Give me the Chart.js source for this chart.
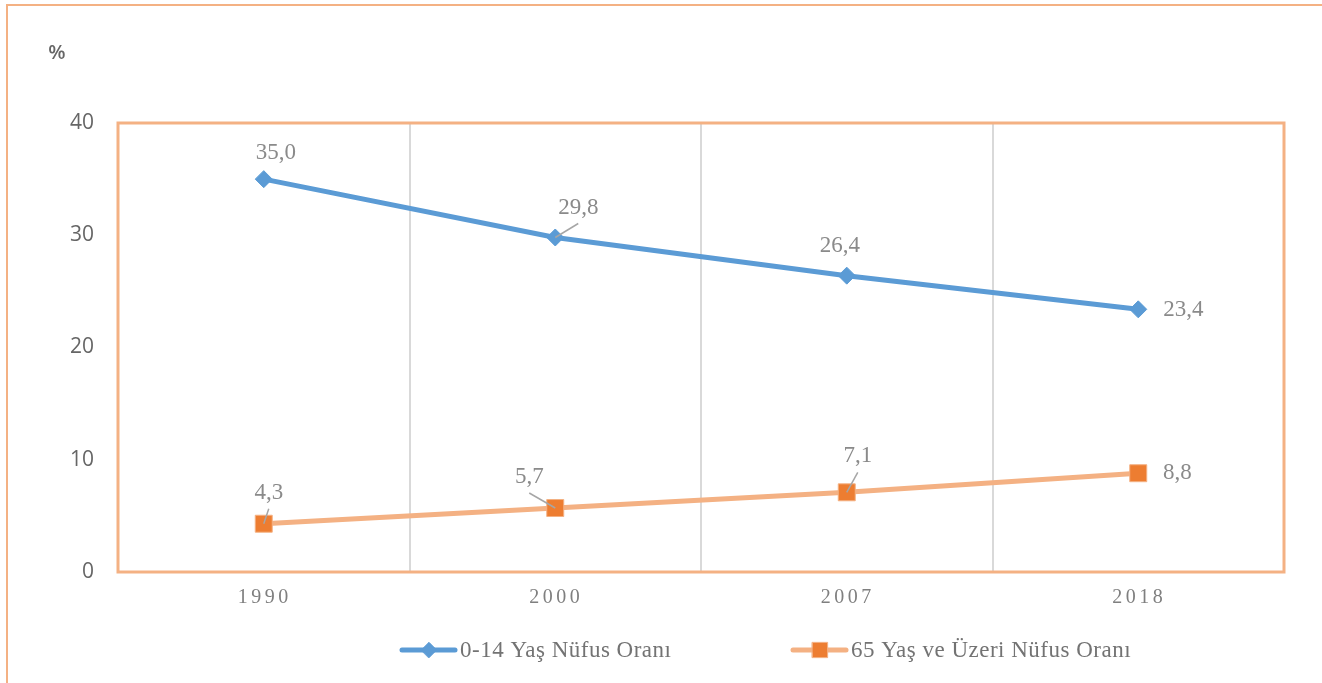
<!DOCTYPE html>
<html>
<head>
<meta charset="utf-8">
<script src="https://cdn.jsdelivr.net/npm/chart.js@4"></script>
<style>
  html, body { margin: 0; padding: 0; background: #fff; }
  #wrap { width: 1322px; height: 683px; }
</style>
</head>
<body>
<div id="wrap"><canvas id="popChart"></canvas></div>
<script>
const years = ["1990", "2000", "2007", "2018"];
const youngShare = [35.0, 29.8, 26.4, 23.4];
const oldShare = [4.3, 5.7, 7.1, 8.8];
const seriesNames = ["0-14 Yaş Nüfus Oranı", "65 Yaş ve Üzeri Nüfus Oranı"];
const yTicks = [0, 10, 20, 30, 40];

// where each value label sits relative to its point (px)
const youngLabelPos = [
  { dx: 12, dy: -26 },
  { dx: 23, dy: -30, leader: true },
  { dx: -7, dy: -30 },
  { dx: 45, dy: 1 }
];
const oldLabelPos = [
  { dx: 5, dy: -31, leader: true },
  { dx: -26, dy: -31, leader: true },
  { dx: 11, dy: -36, leader: true },
  { dx: 39, dy: 0 }
];

const ORANGE_FRAME = "#F4B183";
const SERIF = "'Liberation Serif', 'Times New Roman', serif";

function fmt(v) {
  return v.toFixed(1).replace(".", ",");
}

function drawValueLabels(chart, dsIndex, positions) {
  const ctx = chart.ctx;
  const meta = chart.getDatasetMeta(dsIndex);
  const values = chart.data.datasets[dsIndex].data;
  meta.data.forEach((pt, i) => {
    const p = positions[i];
    const lx = pt.x + p.dx;
    const ly = pt.y + p.dy;
    if (p.leader) {
      ctx.strokeStyle = "#A6A6A6";
      ctx.lineWidth = 1.5;
      ctx.beginPath();
      ctx.moveTo(pt.x, pt.y);
      ctx.lineTo(lx, ly + 16);
      ctx.stroke();
    }
    ctx.fillStyle = "#8A8A8A";
    ctx.font = "23px " + SERIF;
    ctx.letterSpacing = "0px";
    ctx.textAlign = "center";
    ctx.textBaseline = "middle";
    ctx.fillText(fmt(values[i]), lx, ly);
  });
}

function drawLegendItem(ctx, ds, x, y) {
  ctx.strokeStyle = ds.borderColor;
  ctx.lineWidth = 5;
  ctx.lineCap = "round";
  ctx.beginPath();
  ctx.moveTo(x, y);
  ctx.lineTo(x + 53, y);
  ctx.stroke();
  ctx.fillStyle = ds.pointBackgroundColor;
  ctx.strokeStyle = ds.pointBorderColor;
  ctx.lineWidth = ds.pointBorderWidth;
  Chart.helpers.drawPoint(ctx, {
    pointStyle: ds.pointStyle,
    radius: ds.pointRadius * 0.9,
    borderWidth: ds.pointBorderWidth,
    rotation: 0
  }, x + 27, y);
  ctx.fillStyle = "#737373";
  ctx.font = "23px " + SERIF;
  ctx.letterSpacing = "0.5px";
  ctx.textAlign = "left";
  ctx.textBaseline = "middle";
  ctx.fillText(ds.label, x + 58, y + 1);
}

const decorPlugin = {
  id: "decor",
  beforeDraw(chart) {
    const ctx = chart.ctx;
    ctx.save();
    ctx.strokeStyle = ORANGE_FRAME;
    ctx.lineWidth = 2;
    ctx.beginPath();
    ctx.moveTo(7, chart.height);
    ctx.lineTo(7, 5);
    ctx.lineTo(chart.width, 5);
    ctx.stroke();
    ctx.restore();
  },
  beforeDatasetsDraw(chart) {
    const a = chart.chartArea;
    const ctx = chart.ctx;
    ctx.save();
    ctx.strokeStyle = ORANGE_FRAME;
    ctx.lineWidth = 3;
    ctx.strokeRect(a.left, a.top, a.right - a.left, a.bottom - a.top);
    ctx.restore();
  },
  afterDatasetsDraw(chart) {
    const ctx = chart.ctx;
    ctx.save();
    drawValueLabels(chart, 0, youngLabelPos);
    drawValueLabels(chart, 1, oldLabelPos);
    ctx.restore();
  },
  afterDraw(chart) {
    const ctx = chart.ctx;
    const xs = chart.scales.x;
    ctx.save();
    // category labels, spaced out
    ctx.fillStyle = "#7F7F7F";
    ctx.font = "20px " + SERIF;
    ctx.letterSpacing = "3.5px";
    ctx.textAlign = "center";
    ctx.textBaseline = "middle";
    years.forEach((y, i) => {
      ctx.fillText(y, xs.getPixelForValue(i) + 1, 598);
    });
    // unit
    ctx.letterSpacing = "0px";
    ctx.fillStyle = "#666666";
    ctx.font = "600 20px 'Open Sans', sans-serif";
    ctx.fillText("%", 57, 53);
    // legend
    const ds = chart.data.datasets;
    drawLegendItem(ctx, ds[0], 402, 650);
    drawLegendItem(ctx, ds[1], 793, 650);
    ctx.restore();
  }
};

const ctx = document.getElementById("popChart");

new Chart(ctx, {
  type: "line",
  data: {
    labels: years,
    datasets: [
      {
        label: seriesNames[0],
        data: youngShare,
        borderColor: "#5B9BD5",
        borderWidth: 5,
        pointStyle: "rectRot",
        pointRadius: 8.5,
        pointBorderWidth: 1,
        pointBackgroundColor: "#5B9BD5",
        pointBorderColor: "#5B9BD5",
        tension: 0
      },
      {
        label: seriesNames[1],
        data: oldShare,
        borderColor: "#F4B183",
        borderWidth: 5,
        pointStyle: "rect",
        pointRadius: 12,
        pointBorderWidth: 1,
        pointBackgroundColor: "#ED7D31",
        pointBorderColor: "#F4B183",
        tension: 0
      }
    ]
  },
  options: {
    responsive: true,
    maintainAspectRatio: false,
    animation: false,
    layout: { padding: { top: 123, right: 38, bottom: 0, left: 0 } },
    plugins: {
      legend: { display: false },
      tooltip: { enabled: false }
    },
    scales: {
      x: {
        offset: true,
        grid: { offset: true, color: "#D9D9D9", lineWidth: 2, drawTicks: false },
        border: { display: false },
        ticks: { display: false },
        afterFit(scale) { scale.height = 111; }
      },
      y: {
        min: 0,
        max: 40,
        grid: { display: false, drawTicks: false },
        border: { display: false },
        afterBuildTicks(scale) { scale.ticks = yTicks.map(v => ({ value: v })); },
        ticks: {
          padding: 24,
          color: "#666666",
          font: { family: "'Open Sans', sans-serif", size: 21 }
        },
        afterFit(scale) { scale.width = 118; }
      }
    }
  },
  plugins: [decorPlugin]
});
</script>
</body>
</html>
